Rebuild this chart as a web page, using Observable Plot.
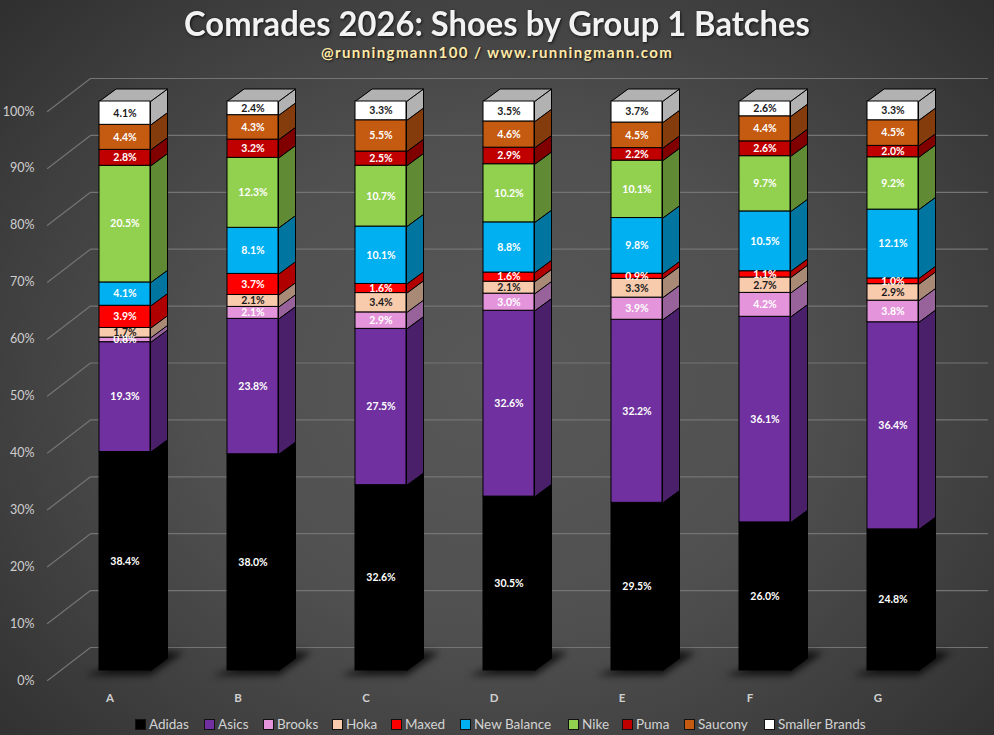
<!DOCTYPE html>
<html>
<head>
<meta charset="utf-8">
<script src="https://cdn.jsdelivr.net/npm/d3@7"></script>
<script src="https://cdn.jsdelivr.net/npm/@observablehq/plot@0.6"></script>
<style>
  html,body{margin:0;padding:0;}
  body{width:994px;height:735px;overflow:hidden;position:relative;
    background:radial-gradient(ellipse 660px 540px at 50% 52%, #585858 0%, #505050 45%, #3e3e3e 78%, #2b2b2b 110%);
    font-family:Lato,"Open Sans",sans-serif;}
  #head{height:70px;text-align:center;box-sizing:border-box;padding-top:3px;}
  #title{font-size:35px;line-height:38px;font-weight:700;color:#f2f2f2;letter-spacing:0;
    transform:scaleX(.935);transform-origin:50% 50%;white-space:nowrap;
    text-shadow:1px 1px 3px rgba(0,0,0,.75);}
  #sub{font-size:15px;line-height:20px;font-weight:700;color:#ffe9a8;letter-spacing:1.4px;margin-top:1px;
    text-shadow:1px 1px 2px rgba(0,0,0,.7);}
  #chart svg{display:block;background:transparent;}
  .shadow{filter:blur(3.5px);}
  #legend{position:absolute;left:0;top:714px;width:994px;height:20px;font-size:13.5px;color:#d2d2d2;}
  #legend .item{position:absolute;top:0;display:flex;align-items:center;height:20px;white-space:nowrap;}
  #legend .sw{width:9px;height:9px;border:1px solid #111;margin-right:3px;flex:none;}
</style>
</head>
<body>
<div id="head">
  <div id="title">Comrades 2026: Shoes by Group 1 Batches</div>
  <div id="sub">@runningmann100 / www.runningmann.com</div>
</div>
<div id="chart"></div>
<div id="legend"></div>
<script>
const categories = ["A","B","C","D","E","F","G"];
const brands = ["Adidas","Asics","Brooks","Hoka","Maxed","New Balance","Nike","Puma","Saucony","Smaller Brands"];

const adidas  = [38.4,38.0,32.6,30.5,29.5,26.0,24.8];
const asics   = [19.3,23.8,27.5,32.6,32.2,36.1,36.4];
const brooks  = [0.8,2.1,2.9,3.0,3.9,4.2,3.8];
const hoka    = [1.7,2.1,3.4,2.1,3.3,2.7,2.9];
const maxed   = [3.9,3.7,1.6,1.6,0.9,1.1,1.0];
const newBal  = [4.1,8.1,10.1,8.8,9.8,10.5,12.1];
const nike    = [20.5,12.3,10.7,10.2,10.1,9.7,9.2];
const puma    = [2.8,3.2,2.5,2.9,2.2,2.6,2.0];
const saucony = [4.4,4.3,5.5,4.6,4.5,4.4,4.5];
const smaller = [4.1,2.4,3.3,3.5,3.7,2.6,3.3];
const series = [adidas,asics,brooks,hoka,maxed,newBal,nike,puma,saucony,smaller];

const frontColors = ["#000000","#7030a0","#e394da","#f8cbad","#ff0000","#00b0f0","#92d050","#c00000","#c55a11","#ffffff"];
const sideColors  = ["#000000","#4b206b","#98639a","#a88a76","#b00000","#00759f","#618a35","#800000","#843c0c","#b2b2b2"];
const labelColors = ["#ffffff","#ffffff","#ffffff","#1a1a1a","#ffffff","#ffffff","#ffffff","#ffffff","#ffffff","#1a1a1a"];
const legendLeft  = [135,204,263,332,391,460,568,622,684,764];

// Layout of the pseudo-3D projection, in data units of the x (category) and y (percent) scales
const pxX = 128, pxY = 5.69;
const barW = 51/pxX, depthX = 17/pxX, depthY = 12.5/pxY;
const frontLift = 10/pxY;            // bar front base sits above the axis corner
const wallX = 43/pxX, wallY = 33/pxY; // axis corner to back wall
const corner = -52/pxX, wallEnd = 888/pxX;

const rows = [];
categories.forEach((cat,i)=>{
  const total = d3.sum(series, s=>s[i]);
  let acc = 0;
  brands.forEach((brand,b)=>{
    const v = series[b][i];
    const y0 = acc/total*100 + frontLift;
    acc += v;
    const y1 = acc/total*100 + frontLift;
    rows.push({cat,i,brand,b,v,y0,y1});
  });
});

const poly = (id,fill,pts)=>pts.map(([x,y])=>({id,fill,x,y}));
const sides = rows.flatMap(r=>poly(`s${r.i}-${r.b}`,sideColors[r.b],[
  [r.i+barW,r.y0],[r.i+barW,r.y1],[r.i+barW+depthX,r.y1+depthY],[r.i+barW+depthX,r.y0+depthY]]));
const tops = categories.flatMap((c,i)=>poly(`t${i}`,sideColors[9],[
  [i,100+frontLift],[i+barW,100+frontLift],[i+barW+depthX,100+frontLift+depthY],[i+depthX,100+frontLift+depthY]]));
const shadows = categories.flatMap((c,i)=>poly(`h${i}`,"#000",[
  [i-15/pxX,frontLift-5/pxY],[i+barW,frontLift-5/pxY],[i+barW+33/pxX,frontLift+18/pxY],[i+barW+4/pxX,frontLift+20/pxY]]));

const gridTicks = d3.range(0,101,10);
const grid = gridTicks.flatMap(t=>[
  {id:t,x:corner,y:t},{id:t,x:corner+wallX,y:t+wallY},{id:t,x:wallEnd,y:t+wallY}]);

const chart = Plot.plot({
  width:994, height:640,
  marginLeft:0, marginRight:0, marginTop:0, marginBottom:30,
  style:{background:"transparent",overflow:"visible"},
  x:{type:"linear",domain:[-99/pxX,(994-99)/pxX],range:[0,994],axis:null},
  y:{type:"linear",domain:[0,610/pxY],range:[610,0],axis:null},
  color:{type:"ordinal",domain:brands,range:frontColors},
  marks:[
    Plot.line(grid,{x:"x",y:"y",z:"id",stroke:"#747474",strokeWidth:1.2,curve:"linear"}),
    Plot.line(shadows,{x:"x",y:"y",z:"id",fill:"#000",fillOpacity:.72,stroke:"none",curve:"linear-closed",className:"shadow"}),
    Plot.line(sides,{x:"x",y:"y",z:"id",fill:{value:"fill",scale:null},stroke:"#000",strokeWidth:1,curve:"linear-closed"}),
    Plot.line(tops,{x:"x",y:"y",z:"id",fill:{value:"fill",scale:null},stroke:"#000",strokeWidth:1,curve:"linear-closed"}),
    Plot.rect(rows,{x1:"i",x2:d=>d.i+barW,y1:"y0",y2:"y1",fill:"brand",stroke:"#000",strokeWidth:1}),
    Plot.text(rows,{x:d=>d.i+barW/2,y:d=>(d.y0+d.y1)/2,text:d=>d.v.toFixed(1)+"%",
      fill:{value:d=>labelColors[d.b],scale:null},fontSize:10.5,fontWeight:700,fontFamily:"Lato"}),
    Plot.axisX({anchor:"bottom",ticks:d3.range(categories.length),tickFormat:i=>categories[i],
      tickSize:0,tickPadding:11,dx:10.5,dy:2,fontSize:11.5,fontWeight:700,fill:"#cfcfcf",fontFamily:"Lato",label:null}),
    Plot.axisY({anchor:"left",ticks:gridTicks,tickFormat:d=>d+"%",tickSize:0,tickPadding:0,dx:34,dy:0,
      fontSize:12.5,fill:"#cfcfcf",fontFamily:"Lato",label:null})
  ]
});
document.getElementById("chart").appendChild(chart);

const legend = document.getElementById("legend");
brands.forEach((b,k)=>{
  const it = document.createElement("div");
  it.className = "item"; it.style.left = legendLeft[k]+"px";
  const sw = document.createElement("span");
  sw.className = "sw"; sw.style.background = frontColors[k];
  const t = document.createElement("span"); t.textContent = b;
  it.append(sw,t); legend.append(it);
});
</script>
</body>
</html>
